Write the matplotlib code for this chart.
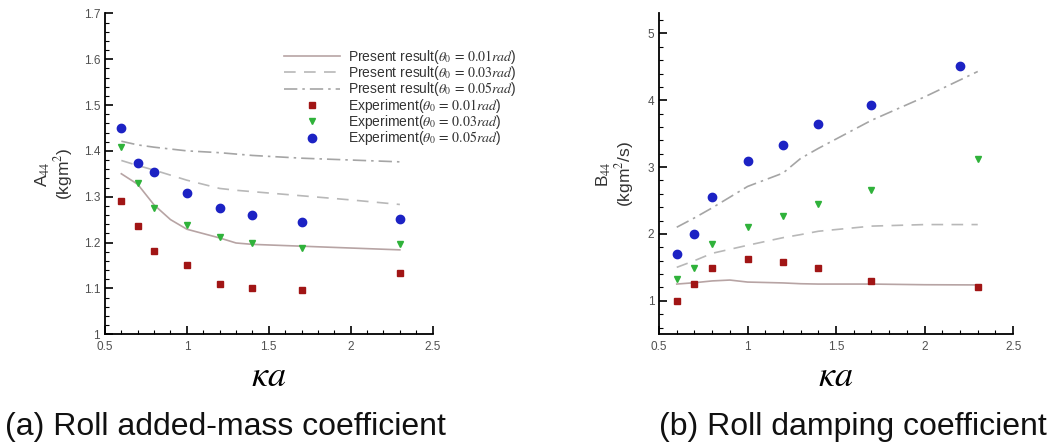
import numpy as np
import matplotlib
matplotlib.use('Agg')
import matplotlib.pyplot as plt
from matplotlib.ticker import MultipleLocator

plt.rcParams['font.family'] = ['Liberation Sans', 'DejaVu Sans']
plt.rcParams['mathtext.fontset'] = 'stix'

# experiment points (ka)
ka_exp = [0.6, 0.7, 0.8, 1.0, 1.2, 1.4, 1.7, 2.3]
ka_exp_b05 = [0.6, 0.7, 0.8, 1.0, 1.2, 1.4, 1.7, 2.2]

# (a) added mass A44
a_exp_001 = [1.29, 1.235, 1.182, 1.150, 1.110, 1.100, 1.097, 1.133]
a_exp_003 = [1.409, 1.330, 1.276, 1.238, 1.212, 1.200, 1.187, 1.196]
a_exp_005 = [1.450, 1.374, 1.353, 1.309, 1.275, 1.261, 1.244, 1.251]

ka_a_sim = [0.6, 0.7, 0.8, 0.9, 1.0, 1.2, 1.3, 1.4, 1.7, 2.0, 2.3]
a_sim_001 = [1.350, 1.327, 1.282, 1.250, 1.229, 1.210, 1.199, 1.196, 1.192, 1.188, 1.184]
a_sim_003 = [1.379, 1.368, 1.358, 1.347, 1.336, 1.318, 1.314, 1.311, 1.302, 1.293, 1.283]
a_sim_005 = [1.421, 1.413, 1.408, 1.404, 1.400, 1.396, 1.393, 1.390, 1.384, 1.380, 1.376]

# (b) damping B44
b_exp_001 = [1.00, 1.252, 1.485, 1.628, 1.578, 1.485, 1.297, 1.203]
b_exp_003 = [1.326, 1.494, 1.855, 2.098, 2.271, 2.454, 2.661, 3.116]
b_exp_005 = [1.707, 1.994, 2.553, 3.087, 3.329, 3.640, 3.932, 4.515]

ka_b_sim = [0.6, 0.7, 0.8, 0.9, 1.0, 1.2, 1.3, 1.4, 1.7, 2.0, 2.3]
b_sim_001 = [1.25, 1.27, 1.297, 1.31, 1.28, 1.267, 1.255, 1.25, 1.25, 1.24, 1.237]
b_sim_003 = [1.50, 1.60, 1.71, 1.77, 1.83, 1.944, 1.99, 2.04, 2.117, 2.14, 2.14]
b_sim_005 = [2.10, 2.24, 2.39, 2.55, 2.71, 2.91, 3.13, 3.28, 3.70, 4.05, 4.43]

labels = [r'Present result($\theta_0\,=\,0.01\mathit{rad}$)',
          r'Present result($\theta_0\,=\,0.03\mathit{rad}$)',
          r'Present result($\theta_0\,=\,0.05\mathit{rad}$)',
          r'Experiment($\theta_0\,=\,0.01\mathit{rad}$)',
          r'Experiment($\theta_0\,=\,0.03\mathit{rad}$)',
          r'Experiment($\theta_0\,=\,0.05\mathit{rad}$)']

c_red = '#a11515'
c_green = '#2fb23a'
c_blue = '#1c22c4'
c_solid = '#b7a4a4'
c_dash = '#b8b8b8'
c_dd = '#a5a5a5'


def style_axes(ax):
    for s in ['top', 'right']:
        ax.spines[s].set_visible(False)
    for s in ['left', 'bottom']:
        ax.spines[s].set_linewidth(1.3)
    ax.tick_params(which='both', direction='in', labelsize=8.5, labelcolor='#505050')
    ax.tick_params(which='major', length=6, width=1.2)
    ax.tick_params(which='minor', length=3, width=0.8)
    ax.tick_params(axis='x', pad=5)
    ax.set_xlim(0.5, 2.5)
    ax.set_xticks([0.5, 1, 1.5, 2, 2.5])
    ax.set_xticklabels(['0.5', '1', '1.5', '2', '2.5'])
    ax.xaxis.set_minor_locator(MultipleLocator(0.1))


def draw(ax, ka_sim, s1, s3, s5, e1, e3, e5, ka5):
    ax.plot(ka_sim, s1, '-', color=c_solid, lw=1.2, label=labels[0])
    ax.plot(ka_sim, s3, '--', color=c_dash, lw=1.2, dashes=(7, 5), label=labels[1])
    ax.plot(ka_sim, s5, '-.', color=c_dd, lw=1.2, dashes=(8, 3, 1.5, 3), label=labels[2])
    ax.plot(ka_exp, e1, 's', color=c_red, ms=4.5, ls='none', label=labels[3])
    ax.plot(ka_exp, e3, 'v', color=c_green, ms=5, ls='none', label=labels[4])
    ax.plot(ka5, e5, 'o', color=c_blue, ms=6, ls='none', label=labels[5])


fig = plt.figure(figsize=(10.57, 4.45), dpi=100)
ax1 = fig.add_axes([0.0993, 0.249, 0.310, 0.721])
ax2 = fig.add_axes([0.6235, 0.249, 0.335, 0.721])

draw(ax1, ka_a_sim, a_sim_001, a_sim_003, a_sim_005, a_exp_001, a_exp_003, a_exp_005, ka_exp)
style_axes(ax1)
ax1.set_ylim(1.0, 1.7)
ax1.set_yticks(np.arange(1.0, 1.71, 0.1))
ax1.set_yticklabels(['1', '1.1', '1.2', '1.3', '1.4', '1.5', '1.6', '1.7'])
ax1.yaxis.set_minor_locator(MultipleLocator(0.02))
ax1.set_ylabel('A$_{44}$\n(kgm$^2$)', fontsize=12.5, color='#333333', labelpad=6,
               linespacing=1.0)
ax1.set_xlabel(r'$\mathit{\kappa a}$', fontsize=26, labelpad=4)

draw(ax2, ka_b_sim, b_sim_001, b_sim_003, b_sim_005, b_exp_001, b_exp_003, b_exp_005, ka_exp_b05)
style_axes(ax2)
ax2.set_ylim(0.5, 5.3)
ax2.set_yticks([1, 2, 3, 4, 5])
ax2.yaxis.set_minor_locator(MultipleLocator(0.2))
ax2.set_ylabel('B$_{44}$\n(kgm$^2$/s)', fontsize=12.5, color='#333333', labelpad=8,
               linespacing=1.0)
ax2.set_xlabel(r'$\mathit{\kappa a}$', fontsize=26, labelpad=4)

leg = ax1.legend(loc='upper left', bbox_to_anchor=(0.53, 0.91), frameon=False,
                 fontsize=10, handlelength=4.0, handletextpad=0.6, labelspacing=-0.12,
                 borderaxespad=0)
for t in leg.get_texts():
    t.set_color('#333333')

fig.text(0.005, 0.022, '(a) Roll added-mass coefficient', fontsize=23, color='#111111')
fig.text(0.99, 0.022, '(b) Roll damping coefficient', fontsize=23, color='#111111',
         ha='right')

fig.savefig('out.png', dpi=100)
